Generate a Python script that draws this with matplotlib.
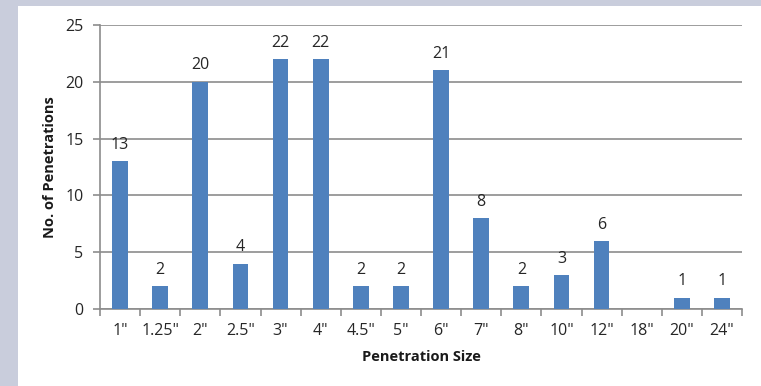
import matplotlib
matplotlib.use("Agg")
import matplotlib.pyplot as plt
from matplotlib.patches import Rectangle

sizes = ['1"', '1.25"', '2"', '2.5"', '3"', '4"', '4.5"', '5"', '6"', '7"',
         '8"', '10"', '12"', '18"', '20"', '24"']
counts = [13, 2, 20, 4, 22, 22, 2, 2, 21, 8, 2, 3, 6, 0, 1, 1]
y_ticks = [0, 5, 10, 15, 20, 25]

W, H = 761, 386
plt.rcParams['font.family'] = ['Open Sans', 'DejaVu Sans']
fig = plt.figure(figsize=(W / 100, H / 100), dpi=100)
fig.patch.set_facecolor('white')

# frame strips along the left and top edges
frame = '#c9cddc'
fig.patches.append(Rectangle((0, 0), 18 / W, 1, transform=fig.transFigure,
                             facecolor=frame, edgecolor='none', zorder=0))
fig.patches.append(Rectangle((0, 1 - 6 / H), 1, 6 / H, transform=fig.transFigure,
                             facecolor=frame, edgecolor='none', zorder=0))

left, right, top, bottom = 100, 742, 25, 309
ax = fig.add_axes([left / W, (H - bottom) / H, (right - left) / W, (bottom - top) / H])

text_color = '#262626'
x = range(len(sizes))
bars = ax.bar(x, counts, width=0.39, color='#4f81bd', zorder=3)
for xi, c in zip(x, counts):
    if c > 0:
        ax.annotate(str(c), (xi, c), xytext=(0, 6), textcoords='offset points',
                    ha='center', va='bottom', fontsize=11.5, color=text_color)

ax.set_xlim(-0.5, len(sizes) - 0.5)
ax.set_ylim(0, 25)
ax.set_yticks(y_ticks)
ax.set_yticklabels([str(v) for v in y_ticks], fontsize=11.5, color=text_color)
ax.yaxis.grid(True, color='#8c8c8c', linewidth=1.2, zorder=0)
ax.set_axisbelow(True)

ax.set_xticks([i - 0.5 for i in range(len(sizes) + 1)], minor=False)
ax.set_xticklabels([])
ax.set_xticks(list(x), minor=True)
ax.set_xticklabels(sizes, minor=True, fontsize=11.5, color=text_color)
ax.tick_params(axis='x', which='major', length=5, color='#8c8c8c', width=1.2)
ax.tick_params(axis='x', which='minor', length=0, pad=10)
ax.tick_params(axis='y', length=5, color='#8c8c8c', width=1.2, pad=7)

for s in ['top', 'right']:
    ax.spines[s].set_visible(False)
for s in ['left', 'bottom']:
    ax.spines[s].set_color('#8c8c8c')
    ax.spines[s].set_linewidth(1.2)

ax.set_xlabel('Penetration Size', fontsize=10.5, fontweight='bold', labelpad=8,
              color='#1a1a1a')
ax.set_ylabel('No. of Penetrations', fontsize=10.5, fontweight='bold', labelpad=6,
              color='#1a1a1a')

fig.savefig('out.png', dpi=100, facecolor='white')
